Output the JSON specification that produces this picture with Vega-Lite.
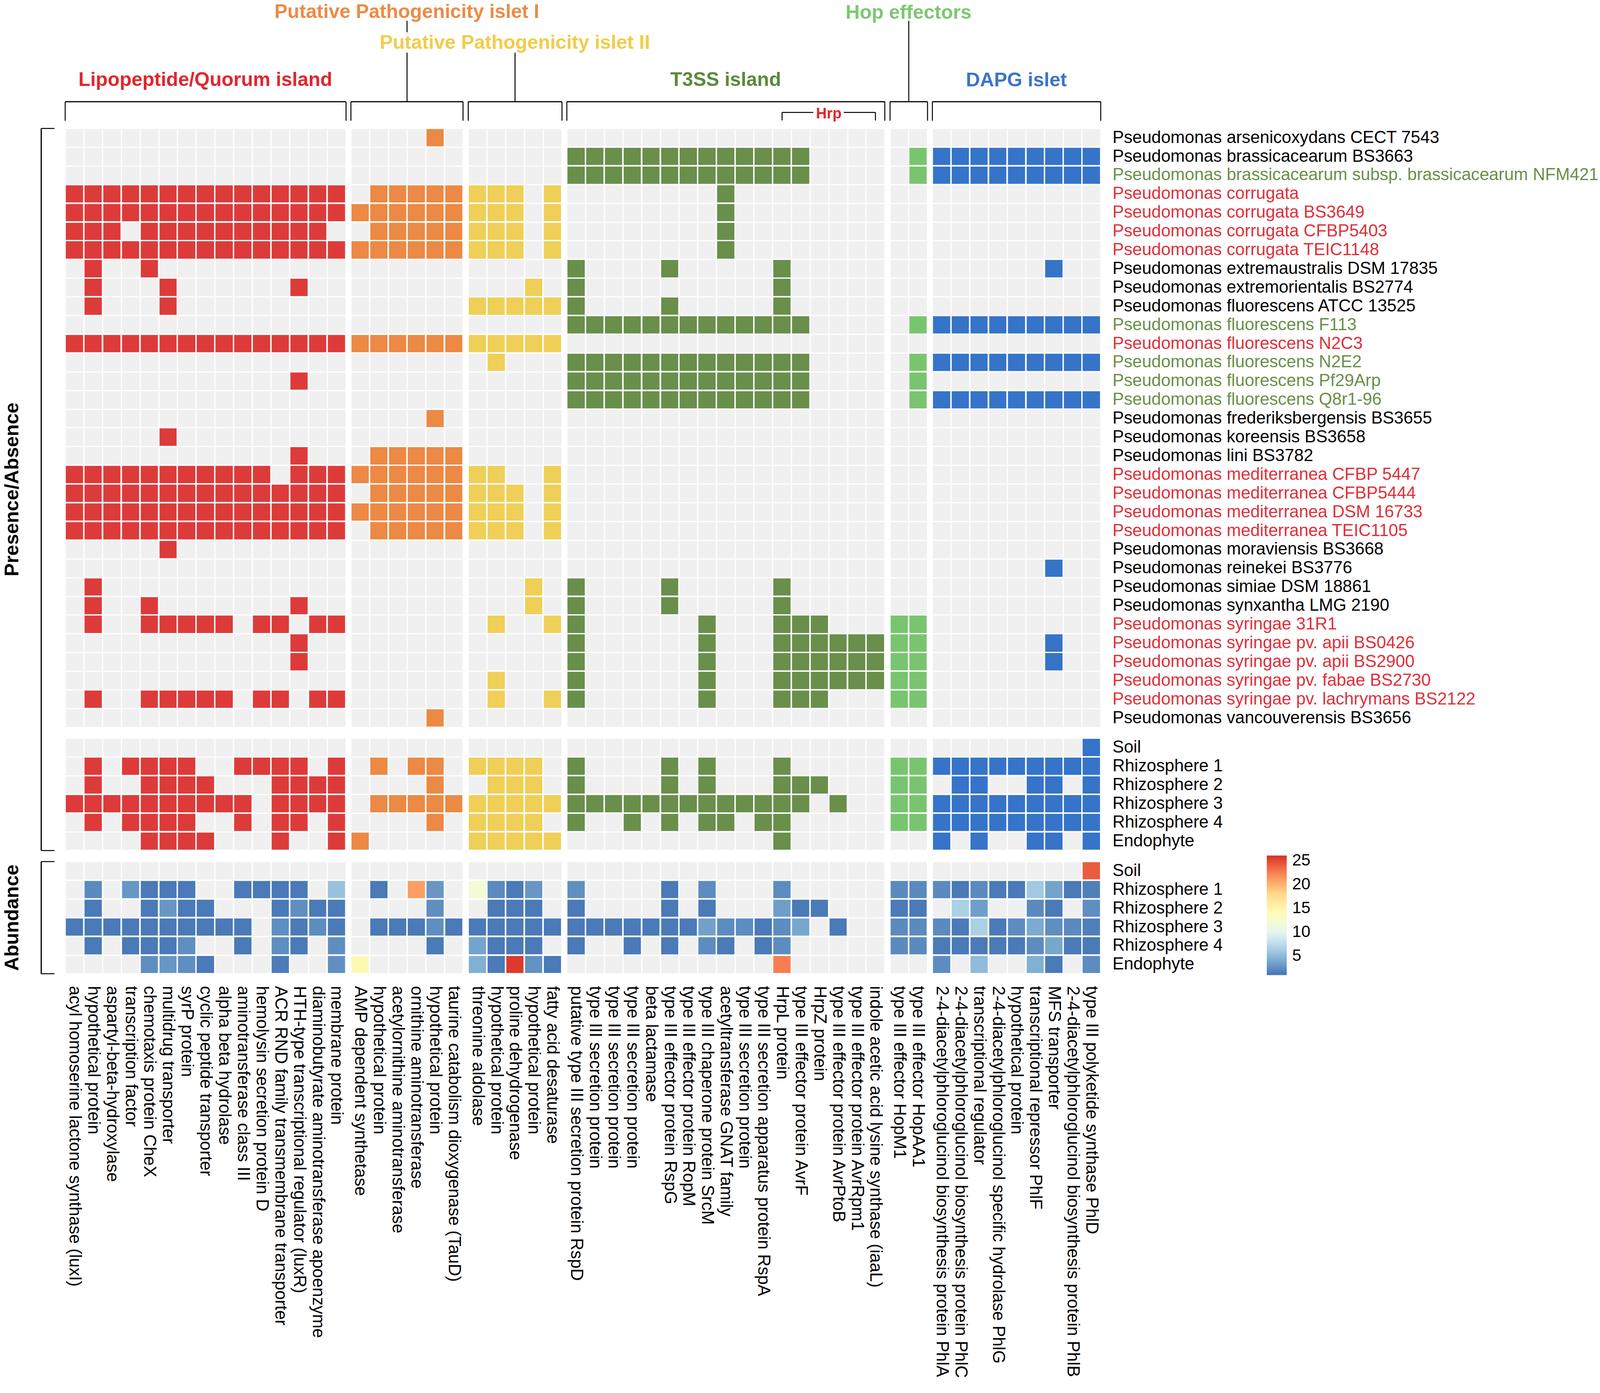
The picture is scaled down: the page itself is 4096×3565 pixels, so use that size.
{
"$schema": "https://vega.github.io/schema/vega-lite/v6.json",
"background": "white",
"padding": {"left": 5, "top": 6, "right": 0, "bottom": 0},
"config": {
 "font": "Liberation Sans",
 "view": {"fill": "#f0f0f0", "stroke": null},
 "axisBand": {"grid": true, "gridColor": "white", "gridWidth": 3, "tickBand": "extent", "ticks": false, "tickSize": 0, "domain": false, "labels": false, "labelFontSize": 43.8, "labelColor": "black", "labelLimit": 3000, "labelOverlap": false, "labelFont": "Liberation Sans", "titleFontSize": 50, "titleFontWeight": "bold", "titleColor": "black", "titleFont": "Liberation Sans", "titlePadding": 0},
 "axisQuantitative": {"grid": false, "labels": false, "domain": true, "domainColor": "black", "domainWidth": 3, "ticks": true, "tickColor": "black", "tickWidth": 2.5, "titleFontSize": 50, "titleFontWeight": "bold", "titleColor": "black", "titleFont": "Liberation Sans", "titlePadding": 0},
 "title": {"fontSize": 50, "fontWeight": "bold", "font": "Liberation Sans", "anchor": "middle", "frame": "group", "baseline": "alphabetic"}
},
"datasets": {
"pa": [
{"s":1,"g":20},
{"s":2,"g":27},{"s":2,"g":28},{"s":2,"g":29},{"s":2,"g":30},{"s":2,"g":31},{"s":2,"g":32},{"s":2,"g":33},{"s":2,"g":34},{"s":2,"g":35},{"s":2,"g":36},{"s":2,"g":37},{"s":2,"g":38},{"s":2,"g":39},{"s":2,"g":45},{"s":2,"g":46},{"s":2,"g":47},{"s":2,"g":48},{"s":2,"g":49},{"s":2,"g":50},{"s":2,"g":51},{"s":2,"g":52},{"s":2,"g":53},{"s":2,"g":54},
{"s":3,"g":27},{"s":3,"g":28},{"s":3,"g":29},{"s":3,"g":30},{"s":3,"g":31},{"s":3,"g":32},{"s":3,"g":33},{"s":3,"g":34},{"s":3,"g":35},{"s":3,"g":36},{"s":3,"g":37},{"s":3,"g":38},{"s":3,"g":39},{"s":3,"g":45},{"s":3,"g":46},{"s":3,"g":47},{"s":3,"g":48},{"s":3,"g":49},{"s":3,"g":50},{"s":3,"g":51},{"s":3,"g":52},{"s":3,"g":53},{"s":3,"g":54},
{"s":4,"g":1},{"s":4,"g":2},{"s":4,"g":3},{"s":4,"g":4},{"s":4,"g":5},{"s":4,"g":6},{"s":4,"g":7},{"s":4,"g":8},{"s":4,"g":9},{"s":4,"g":10},{"s":4,"g":11},{"s":4,"g":12},{"s":4,"g":13},{"s":4,"g":14},{"s":4,"g":15},{"s":4,"g":17},{"s":4,"g":18},{"s":4,"g":19},{"s":4,"g":20},{"s":4,"g":21},{"s":4,"g":22},{"s":4,"g":23},{"s":4,"g":24},{"s":4,"g":26},{"s":4,"g":35},
{"s":5,"g":1},{"s":5,"g":2},{"s":5,"g":3},{"s":5,"g":4},{"s":5,"g":5},{"s":5,"g":6},{"s":5,"g":7},{"s":5,"g":8},{"s":5,"g":9},{"s":5,"g":10},{"s":5,"g":11},{"s":5,"g":12},{"s":5,"g":13},{"s":5,"g":14},{"s":5,"g":15},{"s":5,"g":16},{"s":5,"g":17},{"s":5,"g":18},{"s":5,"g":19},{"s":5,"g":20},{"s":5,"g":21},{"s":5,"g":22},{"s":5,"g":23},{"s":5,"g":24},{"s":5,"g":26},{"s":5,"g":35},
{"s":6,"g":1},{"s":6,"g":2},{"s":6,"g":3},{"s":6,"g":5},{"s":6,"g":6},{"s":6,"g":7},{"s":6,"g":8},{"s":6,"g":9},{"s":6,"g":10},{"s":6,"g":11},{"s":6,"g":12},{"s":6,"g":13},{"s":6,"g":14},{"s":6,"g":17},{"s":6,"g":18},{"s":6,"g":19},{"s":6,"g":20},{"s":6,"g":21},{"s":6,"g":22},{"s":6,"g":23},{"s":6,"g":24},{"s":6,"g":26},{"s":6,"g":35},
{"s":7,"g":1},{"s":7,"g":2},{"s":7,"g":3},{"s":7,"g":4},{"s":7,"g":5},{"s":7,"g":6},{"s":7,"g":7},{"s":7,"g":8},{"s":7,"g":9},{"s":7,"g":10},{"s":7,"g":11},{"s":7,"g":12},{"s":7,"g":13},{"s":7,"g":14},{"s":7,"g":15},{"s":7,"g":16},{"s":7,"g":17},{"s":7,"g":18},{"s":7,"g":19},{"s":7,"g":20},{"s":7,"g":21},{"s":7,"g":22},{"s":7,"g":23},{"s":7,"g":24},{"s":7,"g":26},{"s":7,"g":35},
{"s":8,"g":2},{"s":8,"g":5},{"s":8,"g":27},{"s":8,"g":32},{"s":8,"g":38},{"s":8,"g":52},
{"s":9,"g":2},{"s":9,"g":6},{"s":9,"g":13},{"s":9,"g":25},{"s":9,"g":27},{"s":9,"g":38},
{"s":10,"g":2},{"s":10,"g":6},{"s":10,"g":22},{"s":10,"g":23},{"s":10,"g":24},{"s":10,"g":25},{"s":10,"g":26},{"s":10,"g":27},{"s":10,"g":32},{"s":10,"g":38},
{"s":11,"g":27},{"s":11,"g":28},{"s":11,"g":29},{"s":11,"g":30},{"s":11,"g":31},{"s":11,"g":32},{"s":11,"g":33},{"s":11,"g":34},{"s":11,"g":35},{"s":11,"g":36},{"s":11,"g":37},{"s":11,"g":38},{"s":11,"g":39},{"s":11,"g":45},{"s":11,"g":46},{"s":11,"g":47},{"s":11,"g":48},{"s":11,"g":49},{"s":11,"g":50},{"s":11,"g":51},{"s":11,"g":52},{"s":11,"g":53},{"s":11,"g":54},
{"s":12,"g":1},{"s":12,"g":2},{"s":12,"g":3},{"s":12,"g":4},{"s":12,"g":5},{"s":12,"g":6},{"s":12,"g":7},{"s":12,"g":8},{"s":12,"g":9},{"s":12,"g":10},{"s":12,"g":11},{"s":12,"g":12},{"s":12,"g":13},{"s":12,"g":14},{"s":12,"g":15},{"s":12,"g":16},{"s":12,"g":17},{"s":12,"g":18},{"s":12,"g":19},{"s":12,"g":20},{"s":12,"g":21},{"s":12,"g":22},{"s":12,"g":23},{"s":12,"g":24},{"s":12,"g":25},{"s":12,"g":26},
{"s":13,"g":23},{"s":13,"g":27},{"s":13,"g":28},{"s":13,"g":29},{"s":13,"g":30},{"s":13,"g":31},{"s":13,"g":32},{"s":13,"g":33},{"s":13,"g":34},{"s":13,"g":35},{"s":13,"g":36},{"s":13,"g":37},{"s":13,"g":38},{"s":13,"g":39},{"s":13,"g":45},{"s":13,"g":46},{"s":13,"g":47},{"s":13,"g":48},{"s":13,"g":49},{"s":13,"g":50},{"s":13,"g":51},{"s":13,"g":52},{"s":13,"g":53},{"s":13,"g":54},
{"s":14,"g":13},{"s":14,"g":27},{"s":14,"g":28},{"s":14,"g":29},{"s":14,"g":30},{"s":14,"g":31},{"s":14,"g":32},{"s":14,"g":33},{"s":14,"g":34},{"s":14,"g":35},{"s":14,"g":36},{"s":14,"g":37},{"s":14,"g":38},{"s":14,"g":39},{"s":14,"g":45},
{"s":15,"g":27},{"s":15,"g":28},{"s":15,"g":29},{"s":15,"g":30},{"s":15,"g":31},{"s":15,"g":32},{"s":15,"g":33},{"s":15,"g":34},{"s":15,"g":35},{"s":15,"g":36},{"s":15,"g":37},{"s":15,"g":38},{"s":15,"g":39},{"s":15,"g":45},{"s":15,"g":46},{"s":15,"g":47},{"s":15,"g":48},{"s":15,"g":49},{"s":15,"g":50},{"s":15,"g":51},{"s":15,"g":52},{"s":15,"g":53},{"s":15,"g":54},
{"s":16,"g":20},
{"s":17,"g":6},
{"s":18,"g":13},{"s":18,"g":17},{"s":18,"g":18},{"s":18,"g":19},{"s":18,"g":20},{"s":18,"g":21},
{"s":19,"g":1},{"s":19,"g":2},{"s":19,"g":3},{"s":19,"g":4},{"s":19,"g":5},{"s":19,"g":6},{"s":19,"g":7},{"s":19,"g":8},{"s":19,"g":9},{"s":19,"g":10},{"s":19,"g":11},{"s":19,"g":13},{"s":19,"g":14},{"s":19,"g":15},{"s":19,"g":16},{"s":19,"g":17},{"s":19,"g":18},{"s":19,"g":19},{"s":19,"g":20},{"s":19,"g":21},{"s":19,"g":22},{"s":19,"g":23},{"s":19,"g":26},
{"s":20,"g":1},{"s":20,"g":2},{"s":20,"g":3},{"s":20,"g":4},{"s":20,"g":5},{"s":20,"g":6},{"s":20,"g":7},{"s":20,"g":8},{"s":20,"g":9},{"s":20,"g":10},{"s":20,"g":11},{"s":20,"g":12},{"s":20,"g":13},{"s":20,"g":14},{"s":20,"g":15},{"s":20,"g":17},{"s":20,"g":18},{"s":20,"g":19},{"s":20,"g":20},{"s":20,"g":21},{"s":20,"g":22},{"s":20,"g":23},{"s":20,"g":24},{"s":20,"g":26},
{"s":21,"g":1},{"s":21,"g":2},{"s":21,"g":3},{"s":21,"g":4},{"s":21,"g":5},{"s":21,"g":6},{"s":21,"g":7},{"s":21,"g":8},{"s":21,"g":9},{"s":21,"g":10},{"s":21,"g":11},{"s":21,"g":12},{"s":21,"g":13},{"s":21,"g":14},{"s":21,"g":15},{"s":21,"g":16},{"s":21,"g":17},{"s":21,"g":18},{"s":21,"g":19},{"s":21,"g":20},{"s":21,"g":21},{"s":21,"g":22},{"s":21,"g":23},{"s":21,"g":24},{"s":21,"g":26},
{"s":22,"g":1},{"s":22,"g":2},{"s":22,"g":3},{"s":22,"g":4},{"s":22,"g":5},{"s":22,"g":6},{"s":22,"g":7},{"s":22,"g":8},{"s":22,"g":9},{"s":22,"g":10},{"s":22,"g":11},{"s":22,"g":12},{"s":22,"g":13},{"s":22,"g":14},{"s":22,"g":15},{"s":22,"g":17},{"s":22,"g":18},{"s":22,"g":19},{"s":22,"g":20},{"s":22,"g":21},{"s":22,"g":22},{"s":22,"g":23},{"s":22,"g":24},{"s":22,"g":26},
{"s":23,"g":6},
{"s":24,"g":52},
{"s":25,"g":2},{"s":25,"g":25},{"s":25,"g":27},{"s":25,"g":32},{"s":25,"g":38},
{"s":26,"g":2},{"s":26,"g":5},{"s":26,"g":13},{"s":26,"g":25},{"s":26,"g":27},{"s":26,"g":32},{"s":26,"g":38},
{"s":27,"g":2},{"s":27,"g":5},{"s":27,"g":6},{"s":27,"g":7},{"s":27,"g":8},{"s":27,"g":9},{"s":27,"g":11},{"s":27,"g":12},{"s":27,"g":14},{"s":27,"g":15},{"s":27,"g":23},{"s":27,"g":26},{"s":27,"g":27},{"s":27,"g":34},{"s":27,"g":38},{"s":27,"g":39},{"s":27,"g":40},{"s":27,"g":44},{"s":27,"g":45},
{"s":28,"g":13},{"s":28,"g":27},{"s":28,"g":34},{"s":28,"g":38},{"s":28,"g":39},{"s":28,"g":40},{"s":28,"g":41},{"s":28,"g":42},{"s":28,"g":43},{"s":28,"g":44},{"s":28,"g":45},{"s":28,"g":52},
{"s":29,"g":13},{"s":29,"g":27},{"s":29,"g":34},{"s":29,"g":38},{"s":29,"g":39},{"s":29,"g":40},{"s":29,"g":41},{"s":29,"g":42},{"s":29,"g":43},{"s":29,"g":44},{"s":29,"g":45},{"s":29,"g":52},
{"s":30,"g":23},{"s":30,"g":27},{"s":30,"g":34},{"s":30,"g":38},{"s":30,"g":39},{"s":30,"g":40},{"s":30,"g":41},{"s":30,"g":42},{"s":30,"g":43},{"s":30,"g":44},{"s":30,"g":45},
{"s":31,"g":2},{"s":31,"g":5},{"s":31,"g":6},{"s":31,"g":7},{"s":31,"g":8},{"s":31,"g":9},{"s":31,"g":11},{"s":31,"g":12},{"s":31,"g":14},{"s":31,"g":15},{"s":31,"g":23},{"s":31,"g":26},{"s":31,"g":27},{"s":31,"g":34},{"s":31,"g":38},{"s":31,"g":39},{"s":31,"g":40},{"s":31,"g":44},{"s":31,"g":45},
{"s":32,"g":20}
],
"env": [
{"s":"Soil","g":54},
{"s":"Rhizosphere 1","g":2},{"s":"Rhizosphere 1","g":4},{"s":"Rhizosphere 1","g":5},{"s":"Rhizosphere 1","g":6},{"s":"Rhizosphere 1","g":7},{"s":"Rhizosphere 1","g":10},{"s":"Rhizosphere 1","g":11},{"s":"Rhizosphere 1","g":12},{"s":"Rhizosphere 1","g":13},{"s":"Rhizosphere 1","g":15},{"s":"Rhizosphere 1","g":17},{"s":"Rhizosphere 1","g":19},{"s":"Rhizosphere 1","g":20},{"s":"Rhizosphere 1","g":22},{"s":"Rhizosphere 1","g":23},{"s":"Rhizosphere 1","g":24},{"s":"Rhizosphere 1","g":25},{"s":"Rhizosphere 1","g":27},{"s":"Rhizosphere 1","g":32},{"s":"Rhizosphere 1","g":34},{"s":"Rhizosphere 1","g":38},{"s":"Rhizosphere 1","g":44},{"s":"Rhizosphere 1","g":45},{"s":"Rhizosphere 1","g":46},{"s":"Rhizosphere 1","g":47},{"s":"Rhizosphere 1","g":48},{"s":"Rhizosphere 1","g":49},{"s":"Rhizosphere 1","g":50},{"s":"Rhizosphere 1","g":51},{"s":"Rhizosphere 1","g":52},{"s":"Rhizosphere 1","g":53},{"s":"Rhizosphere 1","g":54},
{"s":"Rhizosphere 2","g":2},{"s":"Rhizosphere 2","g":5},{"s":"Rhizosphere 2","g":6},{"s":"Rhizosphere 2","g":7},{"s":"Rhizosphere 2","g":8},{"s":"Rhizosphere 2","g":12},{"s":"Rhizosphere 2","g":13},{"s":"Rhizosphere 2","g":14},{"s":"Rhizosphere 2","g":15},{"s":"Rhizosphere 2","g":20},{"s":"Rhizosphere 2","g":23},{"s":"Rhizosphere 2","g":24},{"s":"Rhizosphere 2","g":25},{"s":"Rhizosphere 2","g":27},{"s":"Rhizosphere 2","g":32},{"s":"Rhizosphere 2","g":34},{"s":"Rhizosphere 2","g":38},{"s":"Rhizosphere 2","g":39},{"s":"Rhizosphere 2","g":40},{"s":"Rhizosphere 2","g":44},{"s":"Rhizosphere 2","g":45},{"s":"Rhizosphere 2","g":47},{"s":"Rhizosphere 2","g":48},{"s":"Rhizosphere 2","g":51},{"s":"Rhizosphere 2","g":52},{"s":"Rhizosphere 2","g":54},
{"s":"Rhizosphere 3","g":1},{"s":"Rhizosphere 3","g":2},{"s":"Rhizosphere 3","g":3},{"s":"Rhizosphere 3","g":4},{"s":"Rhizosphere 3","g":5},{"s":"Rhizosphere 3","g":6},{"s":"Rhizosphere 3","g":7},{"s":"Rhizosphere 3","g":8},{"s":"Rhizosphere 3","g":9},{"s":"Rhizosphere 3","g":10},{"s":"Rhizosphere 3","g":12},{"s":"Rhizosphere 3","g":13},{"s":"Rhizosphere 3","g":14},{"s":"Rhizosphere 3","g":15},{"s":"Rhizosphere 3","g":17},{"s":"Rhizosphere 3","g":18},{"s":"Rhizosphere 3","g":19},{"s":"Rhizosphere 3","g":20},{"s":"Rhizosphere 3","g":21},{"s":"Rhizosphere 3","g":22},{"s":"Rhizosphere 3","g":23},{"s":"Rhizosphere 3","g":24},{"s":"Rhizosphere 3","g":25},{"s":"Rhizosphere 3","g":26},{"s":"Rhizosphere 3","g":27},{"s":"Rhizosphere 3","g":28},{"s":"Rhizosphere 3","g":29},{"s":"Rhizosphere 3","g":30},{"s":"Rhizosphere 3","g":31},{"s":"Rhizosphere 3","g":32},{"s":"Rhizosphere 3","g":33},{"s":"Rhizosphere 3","g":34},{"s":"Rhizosphere 3","g":35},{"s":"Rhizosphere 3","g":36},{"s":"Rhizosphere 3","g":37},{"s":"Rhizosphere 3","g":38},{"s":"Rhizosphere 3","g":39},{"s":"Rhizosphere 3","g":41},{"s":"Rhizosphere 3","g":44},{"s":"Rhizosphere 3","g":45},{"s":"Rhizosphere 3","g":46},{"s":"Rhizosphere 3","g":47},{"s":"Rhizosphere 3","g":48},{"s":"Rhizosphere 3","g":49},{"s":"Rhizosphere 3","g":50},{"s":"Rhizosphere 3","g":51},{"s":"Rhizosphere 3","g":52},{"s":"Rhizosphere 3","g":53},{"s":"Rhizosphere 3","g":54},
{"s":"Rhizosphere 4","g":2},{"s":"Rhizosphere 4","g":4},{"s":"Rhizosphere 4","g":5},{"s":"Rhizosphere 4","g":6},{"s":"Rhizosphere 4","g":7},{"s":"Rhizosphere 4","g":10},{"s":"Rhizosphere 4","g":12},{"s":"Rhizosphere 4","g":13},{"s":"Rhizosphere 4","g":15},{"s":"Rhizosphere 4","g":20},{"s":"Rhizosphere 4","g":22},{"s":"Rhizosphere 4","g":23},{"s":"Rhizosphere 4","g":24},{"s":"Rhizosphere 4","g":25},{"s":"Rhizosphere 4","g":27},{"s":"Rhizosphere 4","g":30},{"s":"Rhizosphere 4","g":32},{"s":"Rhizosphere 4","g":34},{"s":"Rhizosphere 4","g":35},{"s":"Rhizosphere 4","g":37},{"s":"Rhizosphere 4","g":38},{"s":"Rhizosphere 4","g":44},{"s":"Rhizosphere 4","g":45},{"s":"Rhizosphere 4","g":46},{"s":"Rhizosphere 4","g":47},{"s":"Rhizosphere 4","g":48},{"s":"Rhizosphere 4","g":49},{"s":"Rhizosphere 4","g":50},{"s":"Rhizosphere 4","g":51},{"s":"Rhizosphere 4","g":52},{"s":"Rhizosphere 4","g":53},{"s":"Rhizosphere 4","g":54},
{"s":"Endophyte","g":5},{"s":"Endophyte","g":6},{"s":"Endophyte","g":7},{"s":"Endophyte","g":8},{"s":"Endophyte","g":12},{"s":"Endophyte","g":15},{"s":"Endophyte","g":16},{"s":"Endophyte","g":22},{"s":"Endophyte","g":23},{"s":"Endophyte","g":24},{"s":"Endophyte","g":25},{"s":"Endophyte","g":26},{"s":"Endophyte","g":38},{"s":"Endophyte","g":46},{"s":"Endophyte","g":48},{"s":"Endophyte","g":51},{"s":"Endophyte","g":52},{"s":"Endophyte","g":54}
],
"ab": [
{"s":"Soil","g":54,"v":24},
{"s":"Rhizosphere 1","g":2,"v":2.2},{"s":"Rhizosphere 1","g":4,"v":2.9},{"s":"Rhizosphere 1","g":5,"v":1.3},{"s":"Rhizosphere 1","g":6,"v":1.3},{"s":"Rhizosphere 1","g":7,"v":1.3},{"s":"Rhizosphere 1","g":10,"v":1.3},{"s":"Rhizosphere 1","g":11,"v":1.3},{"s":"Rhizosphere 1","g":12,"v":1.3},{"s":"Rhizosphere 1","g":13,"v":1.3},{"s":"Rhizosphere 1","g":15,"v":5.5},{"s":"Rhizosphere 1","g":17,"v":1.3},{"s":"Rhizosphere 1","g":19,"v":21},{"s":"Rhizosphere 1","g":20,"v":2.9},{"s":"Rhizosphere 1","g":22,"v":12},{"s":"Rhizosphere 1","g":23,"v":2.2},{"s":"Rhizosphere 1","g":24,"v":1.3},{"s":"Rhizosphere 1","g":25,"v":2.9},{"s":"Rhizosphere 1","g":27,"v":2.5},{"s":"Rhizosphere 1","g":32,"v":1.3},{"s":"Rhizosphere 1","g":34,"v":2.3},{"s":"Rhizosphere 1","g":38,"v":2.3},{"s":"Rhizosphere 1","g":44,"v":2.2},{"s":"Rhizosphere 1","g":45,"v":2.2},{"s":"Rhizosphere 1","g":46,"v":2.2},{"s":"Rhizosphere 1","g":47,"v":1.3},{"s":"Rhizosphere 1","g":48,"v":2.2},{"s":"Rhizosphere 1","g":49,"v":1.3},{"s":"Rhizosphere 1","g":50,"v":1.3},{"s":"Rhizosphere 1","g":51,"v":6},{"s":"Rhizosphere 1","g":52,"v":3.6},{"s":"Rhizosphere 1","g":53,"v":1.3},{"s":"Rhizosphere 1","g":54,"v":1.6},
{"s":"Rhizosphere 2","g":2,"v":1.3},{"s":"Rhizosphere 2","g":5,"v":1.3},{"s":"Rhizosphere 2","g":6,"v":2.9},{"s":"Rhizosphere 2","g":7,"v":1.3},{"s":"Rhizosphere 2","g":8,"v":1.3},{"s":"Rhizosphere 2","g":12,"v":1.3},{"s":"Rhizosphere 2","g":13,"v":2.4},{"s":"Rhizosphere 2","g":14,"v":1.3},{"s":"Rhizosphere 2","g":15,"v":1.3},{"s":"Rhizosphere 2","g":20,"v":2.4},{"s":"Rhizosphere 2","g":23,"v":1.3},{"s":"Rhizosphere 2","g":24,"v":1.3},{"s":"Rhizosphere 2","g":25,"v":1.3},{"s":"Rhizosphere 2","g":27,"v":1.3},{"s":"Rhizosphere 2","g":32,"v":1.3},{"s":"Rhizosphere 2","g":34,"v":1.3},{"s":"Rhizosphere 2","g":38,"v":3.3},{"s":"Rhizosphere 2","g":39,"v":1.3},{"s":"Rhizosphere 2","g":40,"v":1.3},{"s":"Rhizosphere 2","g":44,"v":1.3},{"s":"Rhizosphere 2","g":45,"v":1.3},{"s":"Rhizosphere 2","g":47,"v":6.5},{"s":"Rhizosphere 2","g":48,"v":3.3},{"s":"Rhizosphere 2","g":51,"v":2.2},{"s":"Rhizosphere 2","g":52,"v":1.3},{"s":"Rhizosphere 2","g":54,"v":2.4},
{"s":"Rhizosphere 3","g":1,"v":1.3},{"s":"Rhizosphere 3","g":2,"v":1.3},{"s":"Rhizosphere 3","g":3,"v":1.3},{"s":"Rhizosphere 3","g":4,"v":1.3},{"s":"Rhizosphere 3","g":5,"v":1.3},{"s":"Rhizosphere 3","g":6,"v":1.3},{"s":"Rhizosphere 3","g":7,"v":1.3},{"s":"Rhizosphere 3","g":8,"v":1.3},{"s":"Rhizosphere 3","g":9,"v":1.3},{"s":"Rhizosphere 3","g":10,"v":1.3},{"s":"Rhizosphere 3","g":12,"v":2.4},{"s":"Rhizosphere 3","g":13,"v":1.3},{"s":"Rhizosphere 3","g":14,"v":2.3},{"s":"Rhizosphere 3","g":15,"v":1.3},{"s":"Rhizosphere 3","g":17,"v":1.3},{"s":"Rhizosphere 3","g":18,"v":1.3},{"s":"Rhizosphere 3","g":19,"v":1.3},{"s":"Rhizosphere 3","g":20,"v":2.4},{"s":"Rhizosphere 3","g":21,"v":1.3},{"s":"Rhizosphere 3","g":22,"v":1.3},{"s":"Rhizosphere 3","g":23,"v":1.3},{"s":"Rhizosphere 3","g":24,"v":1.3},{"s":"Rhizosphere 3","g":25,"v":1.3},{"s":"Rhizosphere 3","g":26,"v":1.3},{"s":"Rhizosphere 3","g":27,"v":1.3},{"s":"Rhizosphere 3","g":28,"v":1.3},{"s":"Rhizosphere 3","g":29,"v":1.3},{"s":"Rhizosphere 3","g":30,"v":1.3},{"s":"Rhizosphere 3","g":31,"v":1.3},{"s":"Rhizosphere 3","g":32,"v":1.3},{"s":"Rhizosphere 3","g":33,"v":1.3},{"s":"Rhizosphere 3","g":34,"v":3.5},{"s":"Rhizosphere 3","g":35,"v":2.3},{"s":"Rhizosphere 3","g":36,"v":2.3},{"s":"Rhizosphere 3","g":37,"v":1.3},{"s":"Rhizosphere 3","g":38,"v":2.3},{"s":"Rhizosphere 3","g":39,"v":3.8},{"s":"Rhizosphere 3","g":41,"v":1.3},{"s":"Rhizosphere 3","g":44,"v":2.2},{"s":"Rhizosphere 3","g":45,"v":2.2},{"s":"Rhizosphere 3","g":46,"v":2.2},{"s":"Rhizosphere 3","g":47,"v":1.3},{"s":"Rhizosphere 3","g":48,"v":6.5},{"s":"Rhizosphere 3","g":49,"v":1.3},{"s":"Rhizosphere 3","g":50,"v":2.3},{"s":"Rhizosphere 3","g":51,"v":4},{"s":"Rhizosphere 3","g":52,"v":2.4},{"s":"Rhizosphere 3","g":53,"v":2.2},{"s":"Rhizosphere 3","g":54,"v":1.6},
{"s":"Rhizosphere 4","g":2,"v":1.3},{"s":"Rhizosphere 4","g":4,"v":1.3},{"s":"Rhizosphere 4","g":5,"v":1.3},{"s":"Rhizosphere 4","g":6,"v":1.3},{"s":"Rhizosphere 4","g":7,"v":2.4},{"s":"Rhizosphere 4","g":10,"v":1.3},{"s":"Rhizosphere 4","g":12,"v":2.4},{"s":"Rhizosphere 4","g":13,"v":1.3},{"s":"Rhizosphere 4","g":15,"v":2.4},{"s":"Rhizosphere 4","g":20,"v":1.3},{"s":"Rhizosphere 4","g":22,"v":3.6},{"s":"Rhizosphere 4","g":23,"v":1.3},{"s":"Rhizosphere 4","g":24,"v":1.3},{"s":"Rhizosphere 4","g":25,"v":1.3},{"s":"Rhizosphere 4","g":27,"v":1.3},{"s":"Rhizosphere 4","g":30,"v":1.3},{"s":"Rhizosphere 4","g":32,"v":1.3},{"s":"Rhizosphere 4","g":34,"v":2.3},{"s":"Rhizosphere 4","g":35,"v":1.3},{"s":"Rhizosphere 4","g":37,"v":1.3},{"s":"Rhizosphere 4","g":38,"v":2.3},{"s":"Rhizosphere 4","g":44,"v":2.2},{"s":"Rhizosphere 4","g":45,"v":2.2},{"s":"Rhizosphere 4","g":46,"v":1.3},{"s":"Rhizosphere 4","g":47,"v":1.3},{"s":"Rhizosphere 4","g":48,"v":1.3},{"s":"Rhizosphere 4","g":49,"v":1.3},{"s":"Rhizosphere 4","g":50,"v":1.3},{"s":"Rhizosphere 4","g":51,"v":2.3},{"s":"Rhizosphere 4","g":52,"v":3.8},{"s":"Rhizosphere 4","g":53,"v":1.3},{"s":"Rhizosphere 4","g":54,"v":1.3},
{"s":"Endophyte","g":5,"v":2.4},{"s":"Endophyte","g":6,"v":2.9},{"s":"Endophyte","g":7,"v":2.4},{"s":"Endophyte","g":8,"v":1.3},{"s":"Endophyte","g":12,"v":1.4},{"s":"Endophyte","g":15,"v":2.5},{"s":"Endophyte","g":16,"v":14.5},{"s":"Endophyte","g":22,"v":4.3},{"s":"Endophyte","g":23,"v":1.3},{"s":"Endophyte","g":24,"v":25.5},{"s":"Endophyte","g":25,"v":2.6},{"s":"Endophyte","g":26,"v":1.3},{"s":"Endophyte","g":38,"v":22.5},{"s":"Endophyte","g":46,"v":2.3},{"s":"Endophyte","g":48,"v":5},{"s":"Endophyte","g":51,"v":4.3},{"s":"Endophyte","g":52,"v":1.3},{"s":"Endophyte","g":54,"v":2.3}
]
},
"columns": 7,
"spacing": {"row": 27.6, "column": 12.4},
"bounds": "flush",
"align": "each",
"concat": [
{"width": 48.6, "height": 220, "view": {"fill": null, "stroke": null}, "data": {"values": []}, "mark": "point"},
{"width": 718.5, "height": 220, "view": {"fill": null, "stroke": null}, "data": {"values": [{"island": "Lipopeptide/Quorum island"}]},
 "mark": {"type": "point", "opacity": 0},
 "encoding": {"x": {"datum": 0.5, "type": "quantitative", "scale": {"domain": [0, 1], "nice": false}, "axis": {"orient": "bottom", "offset": -3.2, "values": [0, 1], "tickSize": 48.6, "title": null}}}},
{"width": 287.4, "height": 220, "view": {"fill": null, "stroke": null}, "data": {"values": [{"island": "Putative Pathogenicity islet I"}]},
 "mark": {"type": "point", "opacity": 0},
 "encoding": {"x": {"datum": 0.5, "type": "quantitative", "scale": {"domain": [0, 1], "nice": false}, "axis": {"orient": "bottom", "offset": -3.2, "values": [0, 1], "tickSize": 48.6, "title": null}},
  "y": {"datum": 0.5, "type": "quantitative", "scale": {"domain": [0, 1], "nice": false, "range": [216.8, 9.7]}, "axis": {"orient": "left", "offset": -143.7, "ticks": false, "domainWidth": 2.5, "domainDash": [125.6, 52, 40, 300], "title": null}}}},
{"width": 239.5, "height": 220, "view": {"fill": null, "stroke": null}, "data": {"values": [{"island": "Putative Pathogenicity islet II"}]},
 "mark": {"type": "point", "opacity": 0},
 "encoding": {"x": {"datum": 0.5, "type": "quantitative", "scale": {"domain": [0, 1], "nice": false}, "axis": {"orient": "bottom", "offset": -3.2, "values": [0, 1], "tickSize": 48.6, "title": null}},
  "y": {"datum": 0.5, "type": "quantitative", "scale": {"domain": [0, 1], "nice": false, "range": [216.8, 91.2]}, "axis": {"orient": "left", "offset": -119.75, "ticks": false, "domainWidth": 2.5, "title": null}}}},
{"width": 814.3, "height": 220, "view": {"fill": null, "stroke": null}, "data": {"values": [{"island": "T3SS island"}]},
 "mark": {"type": "point", "opacity": 0},
 "encoding": {"x": {"datum": 0.5, "type": "quantitative", "scale": {"domain": [0, 1], "nice": false}, "axis": {"orient": "bottom", "offset": -3.2, "values": [0, 1], "tickSize": 48.6, "title": null}}}},
{"width": 95.8, "height": 220, "view": {"fill": null, "stroke": null}, "data": {"values": [{"island": "Hop effectors"}]},
 "mark": {"type": "point", "opacity": 0},
 "encoding": {"x": {"datum": 0.5, "type": "quantitative", "scale": {"domain": [0, 1], "nice": false}, "axis": {"orient": "bottom", "offset": -3.2, "values": [0, 1], "tickSize": 48.6, "title": null}},
  "y": {"datum": 0.5, "type": "quantitative", "scale": {"domain": [0, 1], "nice": false, "range": [216.8, 9.7]}, "axis": {"orient": "left", "offset": -47.9, "ticks": false, "domainWidth": 2.5, "title": null}}}},
{"width": 431.1, "height": 220, "view": {"fill": null, "stroke": null}, "data": {"values": [{"island": "DAPG islet"}]},
 "mark": {"type": "point", "opacity": 0},
 "encoding": {"x": {"datum": 0.5, "type": "quantitative", "scale": {"domain": [0, 1], "nice": false}, "axis": {"orient": "bottom", "offset": -3.2, "values": [0, 1], "tickSize": 48.6, "title": null}}}},
{"width": 48.6, "height": 10, "view": {"fill": null, "stroke": null}, "data": {"values": []}, "mark": "point"},
{"width": 718.5, "height": 10, "view": {"fill": null, "stroke": null}, "data": {"values": []}, "mark": "point"},
{"width": 287.4, "height": 10, "view": {"fill": null, "stroke": null}, "data": {"values": []}, "mark": "point"},
{"width": 239.5, "height": 10, "view": {"fill": null, "stroke": null}, "data": {"values": []}, "mark": "point"},
{"width": 814.3, "height": 10, "view": {"fill": null, "stroke": null}, "data": {"values": [{"group": "Hrp"}]},
 "mark": {"type": "point", "opacity": 0},
 "encoding": {"x": {"datum": 0.5, "type": "quantitative", "scale": {"domain": [0, 1], "nice": false, "range": [550.85, 790.35]}, "axis": {"orient": "bottom", "offset": -13.4, "values": [0, 1], "tickSize": 20.7, "domainWidth": 2.5, "tickWidth": 2.5, "domainDash": [80, 78, 100], "title": "Hrp", "titleColor": "#e0262e", "titleFontSize": 38, "titleY": 15, "titleBaseline": "alphabetic"}}}},
{"width": 95.8, "height": 10, "view": {"fill": null, "stroke": null}, "data": {"values": []}, "mark": "point"},
{"width": 431.1, "height": 10, "view": {"fill": null, "stroke": null}, "data": {"values": []}, "mark": "point"},
{"width": 48.6, "height": 1532.8, "view": {"fill": null, "stroke": null}, "data": {"values": [{"block": "Presence/Absence"}]},
 "mark": {"type": "point", "opacity": 0},
 "encoding": {"y": {"datum": 0.5, "type": "quantitative", "scale": {"domain": [0, 1], "nice": false, "range": [1847.8, 0]}, "axis": {"orient": "right", "offset": -48.6, "values": [0, 1], "tickSize": 34, "title": "Presence/Absence", "titleX": -59, "titleAngle": -90, "titleBaseline": "alphabetic"}}}},
{
 "width": 718.5, "height": 1532.8,
 "title": {"text": "Lipopeptide/Quorum island", "color": "#e0262e", "offset": 98.6},
 "data": {"name": "pa"},
 "transform": [{"filter": {"field": "g", "range": [1, 15]}}],
 "mark": {"type": "rect", "fill": "#dd3b3a", "stroke": "white", "strokeWidth": 3},
 "encoding": {
  "x": {"field": "g", "type": "ordinal", "title": null, "scale": {"domain": [1,2,3,4,5,6,7,8,9,10,11,12,13,14,15], "paddingInner": 0, "paddingOuter": 0}},
  "y": {"field": "s", "type": "ordinal", "title": null, "scale": {"domain": [1,2,3,4,5,6,7,8,9,10,11,12,13,14,15,16,17,18,19,20,21,22,23,24,25,26,27,28,29,30,31,32], "paddingInner": 0, "paddingOuter": 0}}
 }
},
{
 "width": 287.4, "height": 1532.8,
 "title": {"text": "Putative Pathogenicity islet I", "color": "#ee8a44", "offset": 270.6},
 "data": {"name": "pa"},
 "transform": [{"filter": {"field": "g", "range": [16, 21]}}],
 "mark": {"type": "rect", "fill": "#ec8944", "stroke": "white", "strokeWidth": 3},
 "encoding": {
  "x": {"field": "g", "type": "ordinal", "title": null, "scale": {"domain": [16,17,18,19,20,21], "paddingInner": 0, "paddingOuter": 0}},
  "y": {"field": "s", "type": "ordinal", "title": null, "scale": {"domain": [1,2,3,4,5,6,7,8,9,10,11,12,13,14,15,16,17,18,19,20,21,22,23,24,25,26,27,28,29,30,31,32], "paddingInner": 0, "paddingOuter": 0}}
 }
},
{
 "width": 239.5, "height": 1532.8,
 "title": {"text": "Putative Pathogenicity islet II", "color": "#f0cc4a", "offset": 193.6},
 "data": {"name": "pa"},
 "transform": [{"filter": {"field": "g", "range": [22, 26]}}],
 "mark": {"type": "rect", "fill": "#efcf57", "stroke": "white", "strokeWidth": 3},
 "encoding": {
  "x": {"field": "g", "type": "ordinal", "title": null, "scale": {"domain": [22,23,24,25,26], "paddingInner": 0, "paddingOuter": 0}},
  "y": {"field": "s", "type": "ordinal", "title": null, "scale": {"domain": [1,2,3,4,5,6,7,8,9,10,11,12,13,14,15,16,17,18,19,20,21,22,23,24,25,26,27,28,29,30,31,32], "paddingInner": 0, "paddingOuter": 0}}
 }
},
{
 "width": 814.3, "height": 1532.8,
 "title": {"text": "T3SS island", "color": "#5a8a3a", "offset": 98.6},
 "data": {"name": "pa"},
 "transform": [{"filter": {"field": "g", "range": [27, 43]}}],
 "mark": {"type": "rect", "fill": "#698f4b", "stroke": "white", "strokeWidth": 3},
 "encoding": {
  "x": {"field": "g", "type": "ordinal", "title": null, "scale": {"domain": [27,28,29,30,31,32,33,34,35,36,37,38,39,40,41,42,43], "paddingInner": 0, "paddingOuter": 0}},
  "y": {"field": "s", "type": "ordinal", "title": null, "scale": {"domain": [1,2,3,4,5,6,7,8,9,10,11,12,13,14,15,16,17,18,19,20,21,22,23,24,25,26,27,28,29,30,31,32], "paddingInner": 0, "paddingOuter": 0}}
 }
},
{
 "width": 95.8, "height": 1532.8,
 "title": {"text": "Hop effectors", "color": "#7cc870", "offset": 270.6},
 "data": {"name": "pa"},
 "transform": [{"filter": {"field": "g", "range": [44, 45]}}],
 "mark": {"type": "rect", "fill": "#79c56f", "stroke": "white", "strokeWidth": 3},
 "encoding": {
  "x": {"field": "g", "type": "ordinal", "title": null, "scale": {"domain": [44,45], "paddingInner": 0, "paddingOuter": 0}},
  "y": {"field": "s", "type": "ordinal", "title": null, "scale": {"domain": [1,2,3,4,5,6,7,8,9,10,11,12,13,14,15,16,17,18,19,20,21,22,23,24,25,26,27,28,29,30,31,32], "paddingInner": 0, "paddingOuter": 0}}
 }
},
{
 "width": 431.1, "height": 1532.8,
 "title": {"text": "DAPG islet", "color": "#3a75c8", "offset": 75},
 "data": {"name": "pa"},
 "transform": [{"filter": {"field": "g", "range": [46, 54]}}],
 "mark": {"type": "rect", "fill": "#3574c8", "stroke": "white", "strokeWidth": 3},
 "encoding": {
  "x": {"field": "g", "type": "ordinal", "title": null, "scale": {"domain": [46,47,48,49,50,51,52,53,54], "paddingInner": 0, "paddingOuter": 0}},
  "y": {"field": "s", "type": "ordinal", "title": null, "scale": {"domain": [1,2,3,4,5,6,7,8,9,10,11,12,13,14,15,16,17,18,19,20,21,22,23,24,25,26,27,28,29,30,31,32], "paddingInner": 0, "paddingOuter": 0},
   "axis": {"orient": "right", "labels": true, "labelPadding": 30, "labelBaseline": "middle",
    "labelExpr": "['','Pseudomonas arsenicoxydans CECT 7543','Pseudomonas brassicacearum BS3663','Pseudomonas brassicacearum subsp. brassicacearum NFM421','Pseudomonas corrugata','Pseudomonas corrugata BS3649','Pseudomonas corrugata CFBP5403','Pseudomonas corrugata TEIC1148','Pseudomonas extremaustralis DSM 17835','Pseudomonas extremorientalis BS2774','Pseudomonas fluorescens ATCC 13525','Pseudomonas fluorescens F113','Pseudomonas fluorescens N2C3','Pseudomonas fluorescens N2E2','Pseudomonas fluorescens Pf29Arp','Pseudomonas fluorescens Q8r1-96','Pseudomonas frederiksbergensis BS3655','Pseudomonas koreensis BS3658','Pseudomonas lini BS3782','Pseudomonas mediterranea CFBP 5447','Pseudomonas mediterranea CFBP5444','Pseudomonas mediterranea DSM 16733','Pseudomonas mediterranea TEIC1105','Pseudomonas moraviensis BS3668','Pseudomonas reinekei BS3776','Pseudomonas simiae DSM 18861','Pseudomonas synxantha LMG 2190','Pseudomonas syringae 31R1','Pseudomonas syringae pv. apii BS0426','Pseudomonas syringae pv. apii BS2900','Pseudomonas syringae pv. fabae BS2730','Pseudomonas syringae pv. lachrymans BS2122','Pseudomonas vancouverensis BS3656'][datum.value]",
    "labelColor": {"expr": "indexof([3,11,13,14,15], datum.value) >= 0 ? '#6a9048' : (indexof([4,5,6,7,12,19,20,21,22,27,28,29,30,31], datum.value) >= 0 ? '#e0303a' : 'black')"}}}
 }
},
{"width": 48.6, "height": 287.4, "view": {"fill": null, "stroke": null}, "data": {"values": []}, "mark": "point"},
{
 "width": 718.5, "height": 287.4,
 "data": {"name": "env"},
 "transform": [{"filter": {"field": "g", "range": [1, 15]}}],
 "mark": {"type": "rect", "fill": "#dd3b3a", "stroke": "white", "strokeWidth": 3},
 "encoding": {
  "x": {"field": "g", "type": "ordinal", "title": null, "scale": {"domain": [1,2,3,4,5,6,7,8,9,10,11,12,13,14,15], "paddingInner": 0, "paddingOuter": 0}},
  "y": {"field": "s", "type": "ordinal", "title": null, "scale": {"domain": ["Soil","Rhizosphere 1","Rhizosphere 2","Rhizosphere 3","Rhizosphere 4","Endophyte"], "paddingInner": 0, "paddingOuter": 0}}
 }
},
{
 "width": 287.4, "height": 287.4,
 "data": {"name": "env"},
 "transform": [{"filter": {"field": "g", "range": [16, 21]}}],
 "mark": {"type": "rect", "fill": "#ec8944", "stroke": "white", "strokeWidth": 3},
 "encoding": {
  "x": {"field": "g", "type": "ordinal", "title": null, "scale": {"domain": [16,17,18,19,20,21], "paddingInner": 0, "paddingOuter": 0}},
  "y": {"field": "s", "type": "ordinal", "title": null, "scale": {"domain": ["Soil","Rhizosphere 1","Rhizosphere 2","Rhizosphere 3","Rhizosphere 4","Endophyte"], "paddingInner": 0, "paddingOuter": 0}}
 }
},
{
 "width": 239.5, "height": 287.4,
 "data": {"name": "env"},
 "transform": [{"filter": {"field": "g", "range": [22, 26]}}],
 "mark": {"type": "rect", "fill": "#efcf57", "stroke": "white", "strokeWidth": 3},
 "encoding": {
  "x": {"field": "g", "type": "ordinal", "title": null, "scale": {"domain": [22,23,24,25,26], "paddingInner": 0, "paddingOuter": 0}},
  "y": {"field": "s", "type": "ordinal", "title": null, "scale": {"domain": ["Soil","Rhizosphere 1","Rhizosphere 2","Rhizosphere 3","Rhizosphere 4","Endophyte"], "paddingInner": 0, "paddingOuter": 0}}
 }
},
{
 "width": 814.3, "height": 287.4,
 "data": {"name": "env"},
 "transform": [{"filter": {"field": "g", "range": [27, 43]}}],
 "mark": {"type": "rect", "fill": "#698f4b", "stroke": "white", "strokeWidth": 3},
 "encoding": {
  "x": {"field": "g", "type": "ordinal", "title": null, "scale": {"domain": [27,28,29,30,31,32,33,34,35,36,37,38,39,40,41,42,43], "paddingInner": 0, "paddingOuter": 0}},
  "y": {"field": "s", "type": "ordinal", "title": null, "scale": {"domain": ["Soil","Rhizosphere 1","Rhizosphere 2","Rhizosphere 3","Rhizosphere 4","Endophyte"], "paddingInner": 0, "paddingOuter": 0}}
 }
},
{
 "width": 95.8, "height": 287.4,
 "data": {"name": "env"},
 "transform": [{"filter": {"field": "g", "range": [44, 45]}}],
 "mark": {"type": "rect", "fill": "#79c56f", "stroke": "white", "strokeWidth": 3},
 "encoding": {
  "x": {"field": "g", "type": "ordinal", "title": null, "scale": {"domain": [44,45], "paddingInner": 0, "paddingOuter": 0}},
  "y": {"field": "s", "type": "ordinal", "title": null, "scale": {"domain": ["Soil","Rhizosphere 1","Rhizosphere 2","Rhizosphere 3","Rhizosphere 4","Endophyte"], "paddingInner": 0, "paddingOuter": 0}}
 }
},
{
 "width": 431.1, "height": 287.4,
 "data": {"name": "env"},
 "transform": [{"filter": {"field": "g", "range": [46, 54]}}],
 "mark": {"type": "rect", "fill": "#3574c8", "stroke": "white", "strokeWidth": 3},
 "encoding": {
  "x": {"field": "g", "type": "ordinal", "title": null, "scale": {"domain": [46,47,48,49,50,51,52,53,54], "paddingInner": 0, "paddingOuter": 0}},
  "y": {"field": "s", "type": "ordinal", "title": null, "scale": {"domain": ["Soil","Rhizosphere 1","Rhizosphere 2","Rhizosphere 3","Rhizosphere 4","Endophyte"], "paddingInner": 0, "paddingOuter": 0},
   "axis": {"orient": "right", "labels": true, "labelPadding": 30, "labelBaseline": "middle"}}
 }
},
{"width": 48.6, "height": 287.4, "view": {"fill": null, "stroke": null}, "data": {"values": [{"block": "Abundance"}]},
 "mark": {"type": "point", "opacity": 0},
 "encoding": {"y": {"datum": 0.5, "type": "quantitative", "scale": {"domain": [0, 1], "nice": false}, "axis": {"orient": "right", "offset": -48.6, "values": [0, 1], "tickSize": 34, "title": "Abundance", "titleX": -59, "titleAngle": -90, "titleBaseline": "alphabetic"}}}},
{
 "width": 718.5, "height": 287.4,
 "data": {"name": "ab"},
 "transform": [{"filter": {"field": "g", "range": [1, 15]}}],
 "mark": {"type": "rect", "stroke": "white", "strokeWidth": 3},
 "encoding": {
  "x": {"field": "g", "type": "ordinal", "title": null, "scale": {"domain": [1,2,3,4,5,6,7,8,9,10,11,12,13,14,15], "paddingInner": 0, "paddingOuter": 0},
   "axis": {"orient": "bottom", "labels": true, "labelAngle": 90, "labelAlign": "left", "labelBaseline": "middle", "labelPadding": 31,
    "labelExpr": "['acyl homoserine lactone synthase (luxI)','hypothetical protein','aspartyl-beta-hydroxylase','transcription factor','chemotaxis protein CheX','multidrug transporter','syrP protein','cyclic peptide transporter','alpha beta hydrolase','aminotransferase class III','hemolysin secretion protein D','ACR RND family transmembrane transporter','HTH-type transcriptional regulator (luxR)','diaminobutyrate aminotransferase apoenzyme','membrane protein'][datum.value - 1]"}},
  "y": {"field": "s", "type": "ordinal", "title": null, "scale": {"domain": ["Soil","Rhizosphere 1","Rhizosphere 2","Rhizosphere 3","Rhizosphere 4","Endophyte"], "paddingInner": 0, "paddingOuter": 0}},
  "color": {"field": "v", "type": "quantitative", "scale": {"domain": [1, 5.17, 9.33, 13.5, 17.67, 21.83, 26], "range": ["#4575b4","#91bfdb","#e0f3f8","#ffffbf","#fee090","#fc8d59","#d73027"], "interpolate": "rgb"}}
 }
},
{
 "width": 287.4, "height": 287.4,
 "data": {"name": "ab"},
 "transform": [{"filter": {"field": "g", "range": [16, 21]}}],
 "mark": {"type": "rect", "stroke": "white", "strokeWidth": 3},
 "encoding": {
  "x": {"field": "g", "type": "ordinal", "title": null, "scale": {"domain": [16,17,18,19,20,21], "paddingInner": 0, "paddingOuter": 0},
   "axis": {"orient": "bottom", "labels": true, "labelAngle": 90, "labelAlign": "left", "labelBaseline": "middle", "labelPadding": 31,
    "labelExpr": "['AMP dependent synthetase','hypothetical protein','acetylornithine aminotransferase','ornithine aminotransferase','hypothetical protein','taurine catabolism dioxygenase (TauD)'][datum.value - 16]"}},
  "y": {"field": "s", "type": "ordinal", "title": null, "scale": {"domain": ["Soil","Rhizosphere 1","Rhizosphere 2","Rhizosphere 3","Rhizosphere 4","Endophyte"], "paddingInner": 0, "paddingOuter": 0}},
  "color": {"field": "v", "type": "quantitative", "scale": {"domain": [1, 5.17, 9.33, 13.5, 17.67, 21.83, 26], "range": ["#4575b4","#91bfdb","#e0f3f8","#ffffbf","#fee090","#fc8d59","#d73027"], "interpolate": "rgb"}}
 }
},
{
 "width": 239.5, "height": 287.4,
 "data": {"name": "ab"},
 "transform": [{"filter": {"field": "g", "range": [22, 26]}}],
 "mark": {"type": "rect", "stroke": "white", "strokeWidth": 3},
 "encoding": {
  "x": {"field": "g", "type": "ordinal", "title": null, "scale": {"domain": [22,23,24,25,26], "paddingInner": 0, "paddingOuter": 0},
   "axis": {"orient": "bottom", "labels": true, "labelAngle": 90, "labelAlign": "left", "labelBaseline": "middle", "labelPadding": 31,
    "labelExpr": "['threonine aldolase','hypothetical protein','proline dehydrogenase','hypothetical protein','fatty acid desaturase'][datum.value - 22]"}},
  "y": {"field": "s", "type": "ordinal", "title": null, "scale": {"domain": ["Soil","Rhizosphere 1","Rhizosphere 2","Rhizosphere 3","Rhizosphere 4","Endophyte"], "paddingInner": 0, "paddingOuter": 0}},
  "color": {"field": "v", "type": "quantitative", "scale": {"domain": [1, 5.17, 9.33, 13.5, 17.67, 21.83, 26], "range": ["#4575b4","#91bfdb","#e0f3f8","#ffffbf","#fee090","#fc8d59","#d73027"], "interpolate": "rgb"}}
 }
},
{
 "width": 814.3, "height": 287.4,
 "data": {"name": "ab"},
 "transform": [{"filter": {"field": "g", "range": [27, 43]}}],
 "mark": {"type": "rect", "stroke": "white", "strokeWidth": 3},
 "encoding": {
  "x": {"field": "g", "type": "ordinal", "title": null, "scale": {"domain": [27,28,29,30,31,32,33,34,35,36,37,38,39,40,41,42,43], "paddingInner": 0, "paddingOuter": 0},
   "axis": {"orient": "bottom", "labels": true, "labelAngle": 90, "labelAlign": "left", "labelBaseline": "middle", "labelPadding": 31,
    "labelExpr": "['putative type III secretion protein RspD','type III secretion protein','type III secretion protein','type III secretion protein','beta lactamase','type III effector protein RspG','type III effector protein RopM','type III chaperone protein SrcM','acetyltransferase GNAT family','type III secretion protein','type III secretion apparatus protein RspA','HrpL protein','type III effector protein AvrF','HrpZ protein','type III effector protein AvrPtoB','type III effector protein AvrRpm1','indole acetic acid lysine synthase (iaaL)'][datum.value - 27]"}},
  "y": {"field": "s", "type": "ordinal", "title": null, "scale": {"domain": ["Soil","Rhizosphere 1","Rhizosphere 2","Rhizosphere 3","Rhizosphere 4","Endophyte"], "paddingInner": 0, "paddingOuter": 0}},
  "color": {"field": "v", "type": "quantitative", "scale": {"domain": [1, 5.17, 9.33, 13.5, 17.67, 21.83, 26], "range": ["#4575b4","#91bfdb","#e0f3f8","#ffffbf","#fee090","#fc8d59","#d73027"], "interpolate": "rgb"}}
 }
},
{
 "width": 95.8, "height": 287.4,
 "data": {"name": "ab"},
 "transform": [{"filter": {"field": "g", "range": [44, 45]}}],
 "mark": {"type": "rect", "stroke": "white", "strokeWidth": 3},
 "encoding": {
  "x": {"field": "g", "type": "ordinal", "title": null, "scale": {"domain": [44,45], "paddingInner": 0, "paddingOuter": 0},
   "axis": {"orient": "bottom", "labels": true, "labelAngle": 90, "labelAlign": "left", "labelBaseline": "middle", "labelPadding": 31,
    "labelExpr": "['type III effector HopM1','type III effector HopAA1'][datum.value - 44]"}},
  "y": {"field": "s", "type": "ordinal", "title": null, "scale": {"domain": ["Soil","Rhizosphere 1","Rhizosphere 2","Rhizosphere 3","Rhizosphere 4","Endophyte"], "paddingInner": 0, "paddingOuter": 0}},
  "color": {"field": "v", "type": "quantitative", "scale": {"domain": [1, 5.17, 9.33, 13.5, 17.67, 21.83, 26], "range": ["#4575b4","#91bfdb","#e0f3f8","#ffffbf","#fee090","#fc8d59","#d73027"], "interpolate": "rgb"}}
 }
},
{
 "width": 431.1, "height": 287.4,
 "data": {"name": "ab"},
 "transform": [{"filter": {"field": "g", "range": [46, 54]}}],
 "mark": {"type": "rect", "stroke": "white", "strokeWidth": 3},
 "encoding": {
  "x": {"field": "g", "type": "ordinal", "title": null, "scale": {"domain": [46,47,48,49,50,51,52,53,54], "paddingInner": 0, "paddingOuter": 0},
   "axis": {"orient": "bottom", "labels": true, "labelAngle": 90, "labelAlign": "left", "labelBaseline": "middle", "labelPadding": 31,
    "labelExpr": "['2-4-diacetylphloroglucinol biosynthesis protein PhlA','2-4-diacetylphloroglucinol biosynthesis protein PhlC','transcriptional regulator','2-4-diacetylphloroglucinol specific hydrolase PhlG','hypothetical protein','transcriptional repressor PhlF','MFS transporter','2-4-diacetylphloroglucinol biosynthesis protein PhlB','type III polyketide synthase PhlD'][datum.value - 46]"}},
  "y": {"field": "s", "type": "ordinal", "title": null, "scale": {"domain": ["Soil","Rhizosphere 1","Rhizosphere 2","Rhizosphere 3","Rhizosphere 4","Endophyte"], "paddingInner": 0, "paddingOuter": 0},
   "axis": {"orient": "right", "labels": true, "labelPadding": 30, "labelBaseline": "middle"}},
  "color": {"field": "v", "type": "quantitative", "scale": {"domain": [1, 5.17, 9.33, 13.5, 17.67, 21.83, 26], "range": ["#4575b4","#91bfdb","#e0f3f8","#ffffbf","#fee090","#fc8d59","#d73027"], "interpolate": "rgb"},
   "legend": {"orient": "none", "legendX": 3138, "legendY": 2146.4, "direction": "vertical", "title": null, "gradientLength": 306, "gradientThickness": 51, "values": [5, 10, 15, 20, 25], "labelFontSize": 42, "labelOffset": 14, "labelOverlap": false, "padding": 0, "gradientStrokeWidth": 0, "labelColor": "black"}}
 }
}
]
}
